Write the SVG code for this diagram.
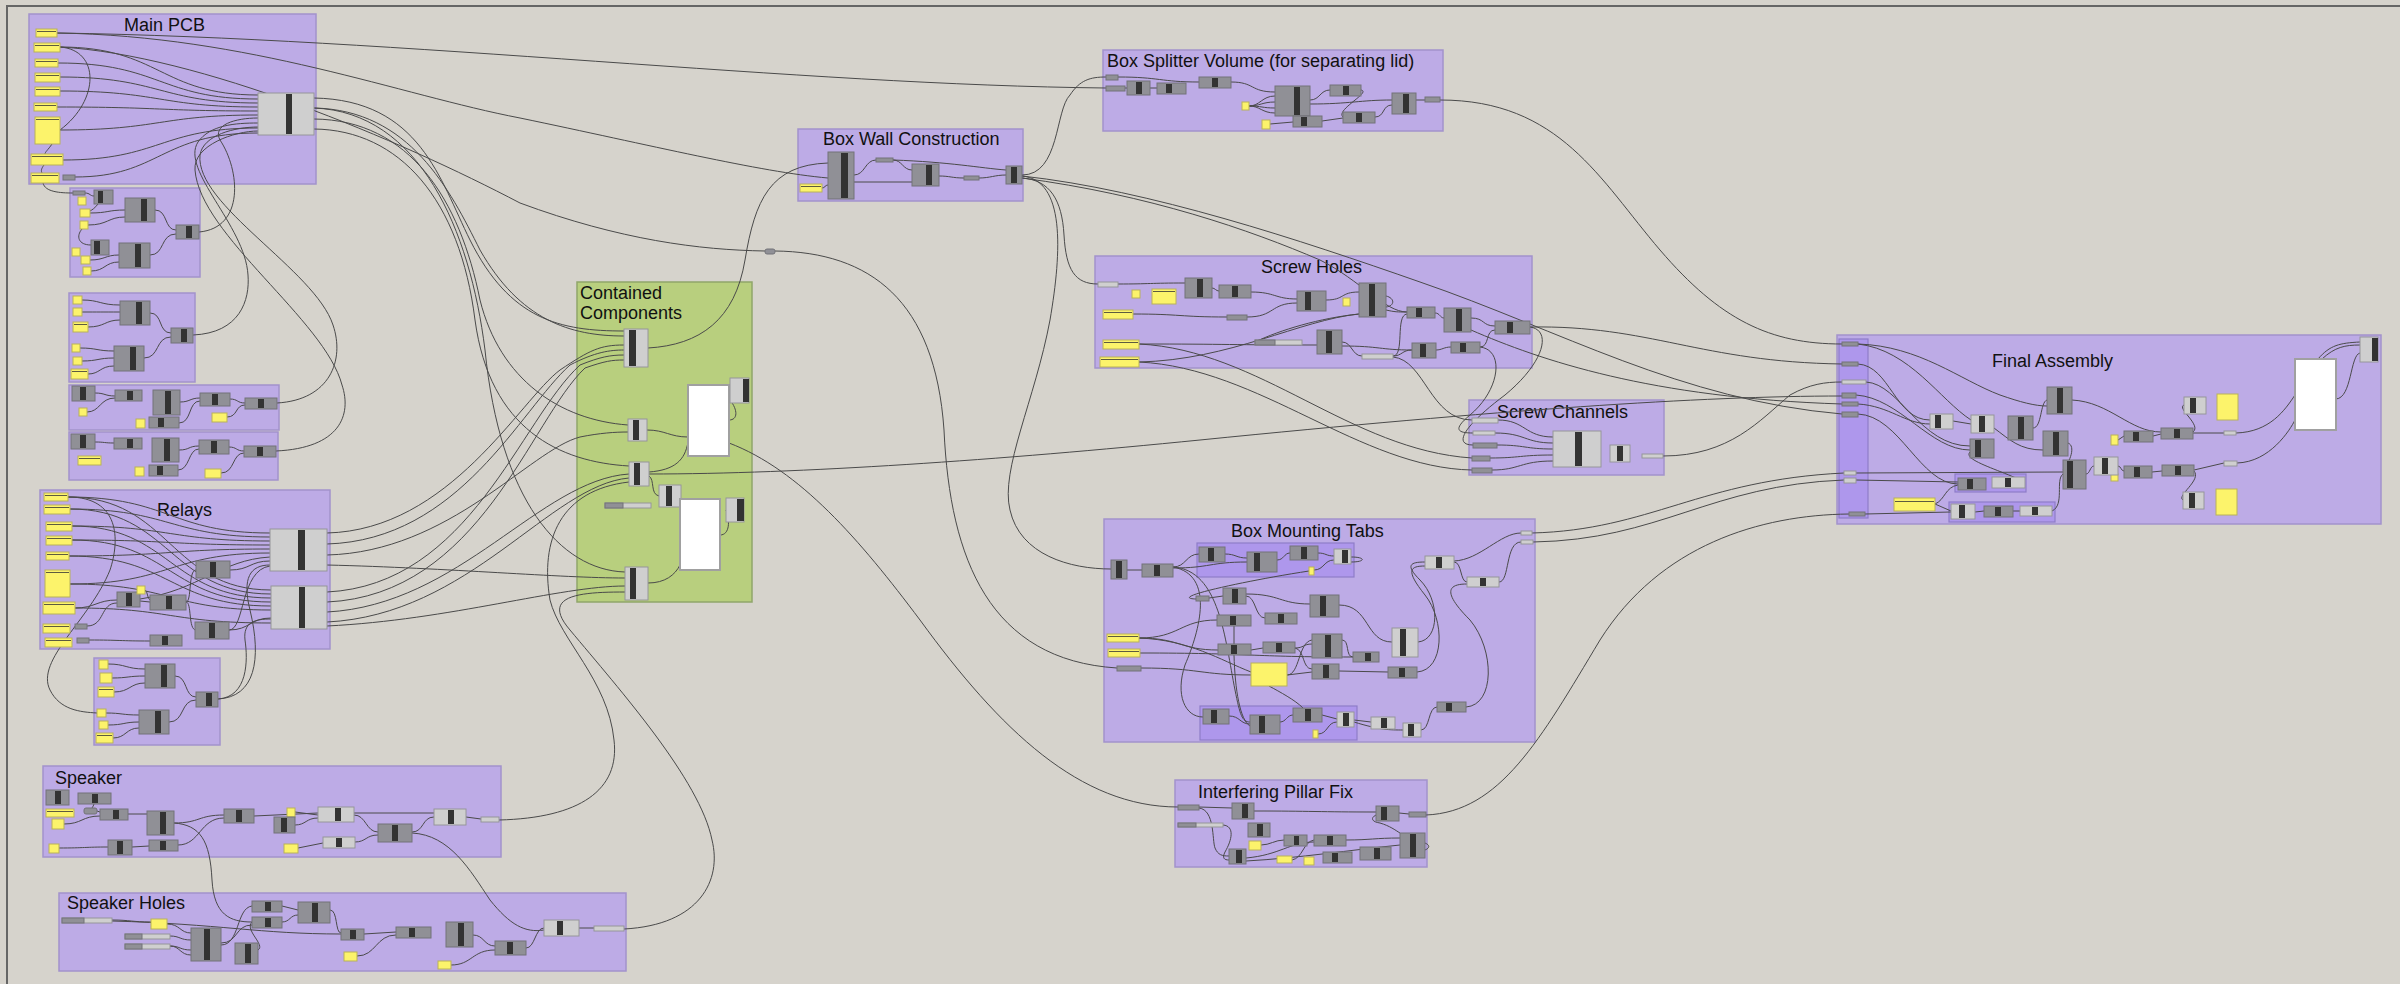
<svg xmlns="http://www.w3.org/2000/svg" width="2400" height="984" viewBox="0 0 2400 984">
<style>
.bg{fill:#d6d3cc}
.fr{fill:none;stroke:#666;stroke-width:2}
.g{fill:#bdabe6;stroke:#a393cb;stroke-width:1.5}
.gi{fill:#ae97ec;stroke:#8e7dc8;stroke-width:1.2}
.gg{fill:#b8cf7e;stroke:#90a66a;stroke-width:1.5}
.t{font-family:"Liberation Sans",Arial,sans-serif;font-size:18px;fill:#111}
.c path{fill:none;stroke:#4a4a4a;stroke-width:1}
.n{fill:#909096;stroke:#737378;stroke-width:1}
.l{fill:#cfcfcf;stroke:#96969a;stroke-width:1}
.b{fill:#333}
.y{fill:#fcf36b;stroke:#b9b25a;stroke-width:1}
.w{fill:#fff;stroke:#a0a0a0;stroke-width:2}
.pl{stroke:#333;stroke-width:0.8}
</style>
<rect class="bg" x="0" y="0" width="2400" height="984"/>
<path class="fr" d="M7,984 V6 H2400"/>

<g id="clusters">
<g id="grp-main-pcb"><rect class="g" x="29" y="14" width="287" height="170"/><text class="t" x="124" y="31">Main PCB</text></g>
<g id="grp-s1"><rect class="g" x="70" y="188" width="130" height="89"/></g>
<g id="grp-a"><rect class="g" x="69" y="293" width="126" height="89"/></g>
<g id="grp-b"><rect class="g" x="69" y="385" width="210" height="45"/></g>
<g id="grp-c"><rect class="g" x="69" y="432" width="209" height="48"/></g>
<g id="grp-relays"><rect class="g" x="40" y="490" width="290" height="159"/><text class="t" x="157" y="516">Relays</text></g>
<g id="grp-d"><rect class="g" x="94" y="658" width="126" height="87"/></g>
<g id="grp-speaker"><rect class="g" x="43" y="766" width="458" height="91"/><text class="t" x="55" y="784">Speaker</text></g>
<g id="grp-speaker-holes"><rect class="g" x="59" y="893" width="567" height="78"/><text class="t" x="67" y="909">Speaker Holes</text></g>
<g id="grp-contained"><rect class="gg" x="577" y="282" width="175" height="320"/><text class="t" x="580" y="299">Contained</text><text class="t" x="580" y="319">Components</text></g>
<g id="grp-box-wall"><rect class="g" x="798" y="129" width="225" height="72"/><text class="t" x="823" y="145">Box Wall Construction</text></g>
<g id="grp-box-splitter"><rect class="g" x="1103" y="50" width="340" height="81"/><text class="t" x="1107" y="67">Box Splitter Volume (for separating lid)</text></g>
<g id="grp-screw-holes"><rect class="g" x="1095" y="256" width="437" height="112"/><text class="t" x="1261" y="273">Screw Holes</text></g>
<g id="grp-screw-channels"><rect class="g" x="1469" y="400" width="195" height="75"/><text class="t" x="1497" y="418">Screw Channels</text></g>
<g id="grp-box-mounting-tabs"><rect class="g" x="1104" y="519" width="431" height="223"/><text class="t" x="1231" y="537">Box Mounting Tabs</text><rect class="gi" x="1197" y="543" width="157" height="34"/><rect class="gi" x="1200" y="706" width="157" height="34"/></g>
<g id="grp-pillar"><rect class="g" x="1175" y="780" width="252" height="87"/><text class="t" x="1198" y="798">Interfering Pillar Fix</text></g>
<g id="grp-final"><rect class="g" x="1837" y="335" width="544" height="189"/><text class="t" x="1992" y="367">Final Assembly</text><rect class="gi" x="1839" y="339" width="29" height="179"/><rect class="gi" x="1955" y="474" width="71" height="18"/><rect class="gi" x="1949" y="502" width="106" height="20"/></g>
</g>

<g id="connectors" class="c">
<!-- Main PCB internal -->
<path d="M60,47 C160,47 160,95 258,95"/>
<path d="M58,63 C160,63 160,99 258,99"/>
<path d="M60,77 C160,77 160,103 258,103"/>
<path d="M60,91 C160,91 160,107 258,107"/>
<path d="M57,107 C160,107 160,111 258,111"/>
<path d="M60,130 C160,130 160,115 258,115"/>
<path d="M63,160 C160,160 160,128 258,128"/>
<path d="M75,177 C160,177 160,133 258,133"/>
<path d="M60,47 C100,50 100,100 60,130"/>
<path d="M52,144 C48,150 45,152 45,154"/>
<path d="M44,165 C41,169 41,171 42,173"/>
<path d="M43,183 C45,192 60,193 73,193"/>
<!-- S1 -->
<path d="M85,193 C90,193 90,196 94,196"/>
<path d="M90,213 C108,213 108,210 125,210"/>
<path d="M88,225 C108,225 108,217 125,217"/>
<path d="M98,204 C95,208 92,210 90,211"/>
<path d="M155,210 C168,210 164,230 176,230"/>
<path d="M82,229 C76,236 78,245 91,245"/>
<path d="M90,260 C105,260 105,255 119,255"/>
<path d="M91,271 C105,271 105,262 119,262"/>
<path d="M150,255 C165,255 160,234 176,234"/>
<path d="M199,232 C245,228 240,170 220,140 C212,125 235,118 258,118"/>
<!-- A -->
<path d="M82,300 C100,300 100,305 120,305"/>
<path d="M82,312 C100,312 100,312 120,312"/>
<path d="M88,327 C105,327 105,320 120,320"/>
<path d="M80,348 C97,348 97,351 114,351"/>
<path d="M82,361 C98,361 98,358 114,358"/>
<path d="M88,374 C100,374 100,366 114,366"/>
<path d="M150,313 C163,313 158,333 171,333"/>
<path d="M144,358 C160,358 155,337 171,337"/>
<path d="M193,335 C240,333 250,300 248,275 C245,225 180,170 198,142 C210,125 235,123 258,123"/>
<!-- B -->
<path d="M95,393 C105,393 105,396 115,396"/>
<path d="M87,412 C100,412 100,398 115,398"/>
<path d="M180,402 C190,402 190,398 200,398"/>
<path d="M179,423 C192,423 188,401 200,401"/>
<path d="M230,399 C238,399 237,403 245,403"/>
<path d="M227,417 C238,417 235,405 245,405"/>
<path d="M277,403 C330,400 345,360 333,325 C315,270 195,205 200,155 C203,135 235,127 258,127"/>
<!-- C -->
<path d="M95,442 C105,442 104,443 114,443"/>
<path d="M179,450 C190,450 188,446 199,446"/>
<path d="M178,470 C190,470 188,449 199,449"/>
<path d="M229,447 C237,447 236,451 244,451"/>
<path d="M221,473 C235,473 232,453 244,453"/>
<path d="M276,451 C340,448 352,415 342,385 C325,320 200,235 195,170 C193,145 235,131 258,131"/>
<!-- Relays -->
<path d="M68,497 C170,497 170,533 270,533"/>
<path d="M68,497 C170,497 170,590 271,590"/>
<path d="M70,509 C170,509 170,537 270,537"/>
<path d="M70,509 C170,509 170,594 271,594"/>
<path d="M72,526 C170,526 170,541 270,541"/>
<path d="M72,526 C170,526 170,598 271,598"/>
<path d="M72,540 C170,540 170,545 270,545"/>
<path d="M72,540 C170,540 170,602 271,602"/>
<path d="M69,556 C170,556 170,549 270,549"/>
<path d="M69,556 C170,556 170,606 271,606"/>
<path d="M70,584 C170,584 170,553 270,553"/>
<path d="M70,584 C170,584 170,610 271,610"/>
<path d="M75,608 C95,608 97,600 117,600"/>
<path d="M75,608 C170,608 170,623 271,623"/>
<path d="M87,626 C105,626 100,603 117,603"/>
<path d="M140,599 C200,590 220,560 270,557"/>
<path d="M145,590 C148,592 147,598 150,600"/>
<path d="M140,601 L150,602"/>
<path d="M186,602 C192,602 188,570 196,570"/>
<path d="M186,602 C192,602 188,630 196,630"/>
<path d="M230,570 C250,570 250,561 270,561"/>
<path d="M229,630 C250,630 250,618 271,618"/>
<path d="M229,630 C245,630 240,570 270,566"/>
<path d="M89,640 C120,640 120,641 150,641"/>
<path d="M68,497 C120,497 120,540 110,570 C90,620 35,660 50,690 C60,710 80,712 97,713"/>
<!-- D -->
<path d="M108,664 C126,664 126,669 145,669"/>
<path d="M112,678 C128,678 128,676 145,676"/>
<path d="M114,692 C130,692 130,683 145,683"/>
<path d="M106,713 C122,713 122,715 139,715"/>
<path d="M108,725 C124,725 124,722 139,722"/>
<path d="M113,738 C126,738 126,728 139,728"/>
<path d="M175,676 C188,676 184,697 196,697"/>
<path d="M169,722 C185,722 180,700 196,700"/>
<path d="M218,699 C255,697 262,660 250,610 C242,578 250,565 270,565"/>
<path d="M218,699 C248,697 248,660 245,640 C243,622 255,619 271,619"/>
<!-- Speaker -->
<path d="M94,804 C92,810 88,812 84,811"/>
<path d="M97,811 L100,812"/>
<path d="M64,824 C82,824 82,816 100,816"/>
<path d="M128,814 L147,814"/>
<path d="M59,848 C85,848 85,847 108,847"/>
<path d="M132,847 L149,846"/>
<path d="M174,823 C200,823 198,815 224,815"/>
<path d="M178,845 C200,845 200,818 224,818"/>
<path d="M254,816 L318,813"/>
<path d="M295,812 L318,815"/>
<path d="M295,825 C306,825 306,818 318,818"/>
<path d="M354,815 C366,815 366,832 378,832"/>
<path d="M298,848 L323,843"/>
<path d="M355,842 C366,842 366,835 378,835"/>
<path d="M412,832 C424,832 422,817 434,817"/>
<path d="M354,813 L434,813"/>
<path d="M466,817 L481,819"/>
<path d="M174,823 C200,825 210,840 212,880 C214,915 230,922 252,922"/>
<path d="M412,833 C450,835 470,870 490,900 C510,925 525,933 544,930"/>
<!-- Speaker Holes -->
<path d="M112,920 C130,920 132,922 151,922"/>
<path d="M167,924 C180,924 180,933 191,933"/>
<path d="M170,936 C180,936 180,940 191,940"/>
<path d="M170,946 C180,946 180,950 191,950"/>
<path d="M170,946 C180,946 180,955 191,955"/>
<path d="M112,921 C220,924 260,934 341,934"/>
<path d="M221,943 C238,943 235,925 252,925"/>
<path d="M221,945 C240,945 236,908 252,906"/>
<path d="M258,950 C266,945 244,930 252,922"/>
<path d="M282,906 L298,910"/>
<path d="M282,922 C290,922 290,915 298,915"/>
<path d="M330,910 C338,910 335,933 341,933"/>
<path d="M364,934 L396,932"/>
<path d="M357,956 C376,956 376,935 396,935"/>
<path d="M473,935 C484,935 484,946 495,946"/>
<path d="M451,965 C472,965 472,950 495,950"/>
<path d="M526,948 C535,948 535,928 544,928"/>
<path d="M579,928 L594,928"/>
<!-- Contained internal -->
<path d="M647,430 C665,430 670,437 688,437"/>
<path d="M649,472 C675,470 685,460 688,442"/>
<path d="M649,476 C655,480 650,494 659,496"/>
<path d="M648,583 C665,583 675,575 680,565"/>
<path d="M729,420 C738,420 738,410 730,400"/>
<path d="M720,535 C730,535 730,520 726,510"/>
<!-- Box wall internal -->
<path d="M822,188 C825,188 825,185 828,185"/>
<path d="M854,175 C865,175 865,160 876,160"/>
<path d="M893,160 C902,160 903,170 912,170"/>
<path d="M854,182 L912,182"/>
<path d="M939,176 C950,176 952,178 964,178"/>
<path d="M979,178 C990,178 995,175 1006,175"/>
<path d="M893,160 C950,162 980,168 1006,170"/>
<!-- Box splitter internal -->
<path d="M1118,77 C1160,77 1160,82 1199,82"/>
<path d="M1125,88 L1127,88"/>
<path d="M1150,88 L1157,88"/>
<path d="M1231,82 C1255,82 1250,92 1275,92"/>
<path d="M1249,106 C1260,106 1262,96 1275,96"/>
<path d="M1249,106 C1260,106 1262,102 1275,102"/>
<path d="M1249,106 C1262,106 1262,108 1275,108"/>
<path d="M1249,106 C1260,106 1262,113 1275,113"/>
<path d="M1270,124 L1293,122"/>
<path d="M1310,100 C1320,100 1320,90 1330,90"/>
<path d="M1310,104 C1350,104 1360,100 1392,100"/>
<path d="M1322,121 L1343,118"/>
<path d="M1361,90 C1372,92 1335,110 1343,117"/>
<path d="M1375,117 C1385,117 1382,105 1392,105"/>
<path d="M1416,100 L1425,100"/>
<!-- Screw holes internal -->
<path d="M1118,284 C1150,284 1150,283 1185,283"/>
<path d="M1212,288 C1215,288 1216,291 1219,291"/>
<path d="M1251,292 C1275,292 1275,299 1297,299"/>
<path d="M1133,314 C1180,314 1180,317 1227,317"/>
<path d="M1247,317 C1275,317 1270,303 1297,303"/>
<path d="M1326,300 C1345,300 1340,292 1359,292"/>
<path d="M1386,296 C1395,298 1395,306 1386,307"/>
<path d="M1386,310 C1395,312 1397,312 1407,312"/>
<path d="M1435,313 C1440,313 1440,318 1444,318"/>
<path d="M1471,318 C1485,318 1482,326 1495,326"/>
<path d="M1359,314 C1320,318 1280,330 1255,342"/>
<path d="M1139,344 C1230,344 1230,345 1317,345"/>
<path d="M1139,362 C1230,360 1300,320 1359,314"/>
<path d="M1342,342 C1352,342 1352,356 1362,356"/>
<path d="M1342,346 C1380,346 1380,350 1412,350"/>
<path d="M1393,356 C1402,356 1402,350 1412,350"/>
<path d="M1436,350 C1442,350 1444,347 1451,347"/>
<path d="M1480,347 C1490,347 1485,330 1495,330"/>
<path d="M1393,356 C1405,356 1395,315 1407,314"/>
<!-- Screw holes to channels -->
<path d="M1139,344 C1260,350 1350,450 1472,458"/>
<path d="M1139,362 C1260,368 1360,468 1472,470"/>
<path d="M1393,357 C1425,360 1430,420 1472,420"/>
<path d="M1480,347 C1505,350 1500,390 1470,415 C1452,430 1458,433 1473,433"/>
<path d="M1530,327 C1552,330 1545,362 1505,395 C1465,425 1452,445 1473,445"/>
<!-- Screw channels internal -->
<path d="M1498,420 C1525,420 1525,437 1553,437"/>
<path d="M1495,433 C1525,433 1525,443 1553,443"/>
<path d="M1497,445 C1525,445 1525,449 1553,449"/>
<path d="M1490,458 C1520,458 1520,455 1553,455"/>
<path d="M1492,470 C1520,470 1520,461 1553,461"/>
<!-- Box mounting tabs internal -->
<path d="M1127,570 L1142,570"/>
<path d="M1173,567 C1186,567 1186,554 1199,554"/>
<path d="M1173,568 C1210,568 1210,562 1247,562"/>
<path d="M1225,554 C1236,554 1236,558 1247,558"/>
<path d="M1277,560 C1284,560 1284,553 1290,553"/>
<path d="M1318,553 C1326,553 1326,556 1334,556"/>
<path d="M1314,570 C1324,570 1324,560 1334,560"/>
<path d="M1351,557 C1366,557 1366,562 1351,562"/>
<path d="M1173,567 C1215,575 1200,630 1185,665 C1175,695 1185,717 1203,717"/>
<path d="M1173,567 C1220,570 1225,640 1235,690 C1240,715 1242,722 1250,722"/>
<path d="M1309,571 C1250,580 1165,598 1196,599"/>
<path d="M1209,598 L1223,596"/>
<path d="M1246,594 C1280,594 1280,604 1310,604"/>
<path d="M1246,596 C1256,596 1255,618 1265,618"/>
<path d="M1139,638 C1180,638 1180,620 1217,620"/>
<path d="M1139,638 C1180,638 1180,650 1218,650"/>
<path d="M1139,638 C1190,640 1220,660 1251,672"/>
<path d="M1140,653 C1250,653 1250,657 1353,657"/>
<path d="M1141,668 C1200,668 1200,675 1251,675"/>
<path d="M1234,626 L1234,644"/>
<path d="M1234,655 C1235,690 1240,720 1250,726"/>
<path d="M1251,650 L1263,648"/>
<path d="M1295,648 C1304,648 1303,644 1312,644"/>
<path d="M1295,648 C1305,650 1302,669 1312,669"/>
<path d="M1287,675 L1312,672"/>
<path d="M1287,675 C1300,675 1298,642 1312,640"/>
<path d="M1339,671 L1388,672"/>
<path d="M1342,640 C1350,640 1345,657 1353,657"/>
<path d="M1339,605 C1370,605 1365,642 1392,642"/>
<path d="M1269,686 C1280,692 1295,700 1303,708"/>
<path d="M1418,642 C1440,640 1440,600 1420,580 C1405,565 1410,562 1425,562"/>
<path d="M1417,672 C1445,670 1445,620 1425,595 C1405,570 1410,566 1425,566"/>
<path d="M1454,562 C1462,562 1460,582 1467,582"/>
<path d="M1454,561 C1480,560 1500,533 1521,533"/>
<path d="M1499,582 C1510,582 1505,542 1521,542"/>
<path d="M1466,707 C1495,705 1495,650 1470,620 C1440,590 1450,584 1467,584"/>
<path d="M1354,720 L1371,722"/>
<path d="M1354,722 C1380,730 1390,730 1403,730"/>
<path d="M1421,730 C1430,730 1428,707 1437,707"/>
<path d="M1229,716 C1240,716 1240,724 1250,724"/>
<path d="M1280,722 C1286,722 1287,715 1293,715"/>
<path d="M1322,715 L1337,719"/>
<path d="M1318,734 C1328,734 1327,722 1337,722"/>
<!-- Pillar internal -->
<path d="M1199,807 L1232,808"/>
<path d="M1199,808 C1215,810 1212,840 1215,848 C1218,855 1222,856 1229,856"/>
<path d="M1223,825 C1235,826 1232,840 1225,852 C1222,858 1224,860 1229,860"/>
<path d="M1254,811 C1310,811 1320,812 1376,812"/>
<path d="M1261,845 C1270,845 1275,840 1284,840"/>
<path d="M1246,858 C1280,855 1290,842 1314,842"/>
<path d="M1292,860 C1303,858 1303,842 1314,840"/>
<path d="M1346,840 C1370,840 1375,838 1400,838"/>
<path d="M1246,861 C1300,858 1350,850 1400,845"/>
<path d="M1376,815 C1370,818 1372,822 1380,823 C1390,826 1395,830 1400,833"/>
<path d="M1425,843 C1430,845 1430,848 1425,850"/>
<path d="M1399,813 L1409,814"/>
<!-- Final assembly internal -->
<path d="M1858,344 C1920,346 1960,380 2000,395 C2020,402 2035,406 2047,406"/>
<path d="M1858,344 C1910,350 1940,400 1971,420"/>
<path d="M1858,364 C1890,366 1895,420 1930,420"/>
<path d="M1866,382 C1900,384 1920,446 1970,446"/>
<path d="M1856,395 C1900,398 1930,450 1970,450"/>
<path d="M1858,404 C1890,406 1905,424 1930,424"/>
<path d="M1858,414 C1900,416 1920,484 1958,484"/>
<path d="M1953,421 L1971,424"/>
<path d="M1994,428 C2010,440 2020,450 2043,450"/>
<path d="M2033,428 C2042,428 2040,402 2047,400"/>
<path d="M2068,443 C2076,446 2070,462 2063,470"/>
<path d="M2072,400 C2110,402 2130,432 2161,432"/>
<path d="M2118,440 L2124,436"/>
<path d="M2153,436 L2161,434"/>
<path d="M2193,433 L2224,433"/>
<path d="M2193,432 C2202,425 2176,408 2184,405"/>
<path d="M2236,433 C2270,432 2285,410 2295,395"/>
<path d="M1970,452 C1962,460 2000,470 2025,482"/>
<path d="M1856,473 L2063,472"/>
<path d="M1856,480 L1958,482"/>
<path d="M2052,511 C2065,505 2055,480 2063,474"/>
<path d="M1935,504 L1951,511"/>
<path d="M1935,504 C1945,500 1945,487 1958,485"/>
<path d="M1865,514 L1951,512"/>
<path d="M1975,512 L1984,511"/>
<path d="M2013,511 L2020,511"/>
<path d="M2086,474 C2090,474 2090,466 2094,466"/>
<path d="M2118,466 C2121,466 2121,471 2124,471"/>
<path d="M2152,472 L2162,471"/>
<path d="M2194,470 L2224,463"/>
<path d="M2194,471 C2202,480 2176,496 2183,500"/>
<path d="M2237,463 C2270,462 2290,430 2295,420"/>
<path d="M2336,399 C2352,398 2350,355 2360,353"/>
<path d="M2318,359 C2330,345 2340,343 2360,342"/>
<path d="M2322,359 C2335,347 2345,345 2360,345"/>
<!-- Long connections -->
<path d="M57,33 C400,38 800,85 1106,88"/>
<path d="M57,33 C250,36 400,95 520,118 C650,145 760,172 828,178"/>
<path d="M60,47 C200,55 400,140 520,203 C620,240 700,250 765,251"/>
<path d="M775,251 C870,252 935,300 944,430 C950,560 990,660 1117,668"/>
<path d="M314,98 C420,100 440,180 470,240 C510,320 560,331 624,331"/>
<path d="M314,108 C410,110 450,190 480,250 C520,320 570,336 624,336"/>
<path d="M314,119 C410,120 460,200 480,300 C500,380 560,420 628,425"/>
<path d="M314,129 C400,130 460,200 475,320 C490,430 560,462 629,466"/>
<path d="M314,108 C420,112 470,230 485,350 C500,500 560,570 625,572"/>
<path d="M327,533 C450,530 520,400 560,370 C590,350 600,345 624,345"/>
<path d="M327,544 C460,540 520,410 570,365 C595,352 610,350 624,350"/>
<path d="M327,555 C450,552 530,450 580,437 C600,433 615,432 628,432"/>
<path d="M327,565 C450,568 560,578 625,578"/>
<path d="M327,592 C470,585 520,420 580,365 C600,357 610,355 624,355"/>
<path d="M327,602 C480,595 530,420 585,368 C605,361 612,360 624,360"/>
<path d="M327,612 C460,605 540,480 629,474"/>
<path d="M327,622 C470,615 550,485 629,478"/>
<path d="M327,626 C450,620 560,586 625,586"/>
<path d="M499,820 C580,818 620,790 614,740 C608,680 560,640 550,600 C540,540 560,490 629,482"/>
<path d="M624,929 C700,925 722,880 712,840 C700,780 620,690 570,630 C540,595 580,592 625,592"/>
<path d="M648,348 C700,345 735,320 745,260 C755,200 770,165 828,163"/>
<path d="M649,474 C800,474 1000,460 1200,440 C1500,410 1700,396 1842,396"/>
<path d="M729,443 C800,470 860,540 920,620 C1000,730 1080,807 1178,807"/>
<path d="M1022,175 C1060,175 1055,110 1070,95 C1080,80 1090,77 1106,77"/>
<path d="M1022,176 C1065,180 1062,250 1050,320 C1035,400 1000,470 1010,510 C1020,555 1070,569 1111,569"/>
<path d="M1022,178 C1050,180 1062,200 1064,235 C1066,270 1075,284 1098,284"/>
<path d="M1022,176 C1150,190 1300,240 1420,282 C1560,330 1680,400 1842,414"/>
<path d="M1022,178 C1150,195 1250,230 1320,260 C1360,280 1385,312 1407,312"/>
<path d="M1440,100 C1560,100 1600,180 1660,250 C1720,320 1770,344 1842,344"/>
<path d="M1530,327 C1650,325 1700,362 1842,364"/>
<path d="M1471,330 C1540,360 1650,398 1842,404"/>
<path d="M1663,456 C1730,456 1760,420 1790,395 C1810,384 1825,382 1842,382"/>
<path d="M1532,533 C1650,530 1700,480 1844,473"/>
<path d="M1533,542 C1660,540 1710,485 1844,480"/>
<path d="M1426,815 C1500,812 1540,740 1600,640 C1660,545 1760,515 1849,514"/>
</g>

<g id="nodes">
<!-- Main PCB -->
<g id="pcb-p1"><rect class="y" x="36" y="29" width="21" height="8"/><line class="pl" x1="37" y1="31.5" x2="56" y2="31.5"/></g>
<g id="pcb-p2"><rect class="y" x="34" y="43" width="26" height="9"/><line class="pl" x1="35" y1="45.5" x2="59" y2="45.5"/></g>
<g id="pcb-p3"><rect class="y" x="35" y="59" width="23" height="8"/><line class="pl" x1="36" y1="61.5" x2="57" y2="61.5"/></g>
<g id="pcb-p4"><rect class="y" x="35" y="73" width="25" height="9"/><line class="pl" x1="36" y1="75.5" x2="59" y2="75.5"/></g>
<g id="pcb-p5"><rect class="y" x="35" y="87" width="25" height="9"/><line class="pl" x1="36" y1="89.5" x2="59" y2="89.5"/></g>
<g id="pcb-p6"><rect class="y" x="34" y="103" width="23" height="8"/><line class="pl" x1="35" y1="105.5" x2="56" y2="105.5"/></g>
<g id="pcb-p7"><rect class="y" x="35" y="117" width="25" height="27"/><line class="pl" x1="36" y1="119.5" x2="59" y2="119.5"/></g>
<g id="pcb-p8"><rect class="y" x="31" y="154" width="32" height="11"/><line class="pl" x1="32" y1="156.5" x2="62" y2="156.5"/></g>
<g id="pcb-p9"><rect class="y" x="31" y="173" width="28" height="10"/><line class="pl" x1="32" y1="175.5" x2="58" y2="175.5"/></g>
<g id="pcb-s1"><rect class="n" x="63" y="175" width="12" height="5"/></g>
<g id="pcb-c1"><rect class="l" x="258" y="93" width="56" height="42"/><rect class="b" x="286" y="94" width="6" height="40"/></g>
<!-- S1 -->
<g id="s1-a"><rect class="n" x="73" y="191" width="12" height="4"/></g>
<g id="s1-b"><rect class="n" x="94" y="190" width="19" height="14"/><rect class="b" x="98" y="191" width="5" height="12"/></g>
<g id="s1-c"><rect class="n" x="125" y="198" width="30" height="24"/><rect class="b" x="141" y="199" width="6" height="22"/></g>
<g id="s1-y1"><rect class="y" x="78" y="197" width="8" height="8"/></g>
<g id="s1-y2"><rect class="y" x="80" y="209" width="10" height="8"/></g>
<g id="s1-y3"><rect class="y" x="80" y="221" width="8" height="8"/></g>
<g id="s1-d"><rect class="n" x="91" y="240" width="18" height="15"/><rect class="b" x="94" y="241" width="6" height="13"/></g>
<g id="s1-e"><rect class="n" x="119" y="243" width="31" height="25"/><rect class="b" x="135" y="244" width="6" height="23"/></g>
<g id="s1-y4"><rect class="y" x="72" y="248" width="8" height="8"/></g>
<g id="s1-y5"><rect class="y" x="81" y="256" width="9" height="8"/></g>
<g id="s1-y6"><rect class="y" x="83" y="267" width="8" height="8"/></g>
<g id="s1-f"><rect class="n" x="176" y="225" width="23" height="14"/><rect class="b" x="186" y="226" width="6" height="12"/></g>
<!-- A -->
<g id="a-y1"><rect class="y" x="73" y="296" width="9" height="8"/></g>
<g id="a-y2"><rect class="y" x="73" y="308" width="9" height="8"/></g>
<g id="a-p1"><rect class="y" x="73" y="322" width="15" height="10"/><line class="pl" x1="74" y1="324.5" x2="87" y2="324.5"/></g>
<g id="a-y3"><rect class="y" x="72" y="344" width="8" height="8"/></g>
<g id="a-y4"><rect class="y" x="73" y="357" width="9" height="8"/></g>
<g id="a-p2"><rect class="y" x="71" y="369" width="17" height="10"/><line class="pl" x1="72" y1="371.5" x2="87" y2="371.5"/></g>
<g id="a-c1"><rect class="n" x="120" y="301" width="30" height="24"/><rect class="b" x="136" y="302" width="6" height="22"/></g>
<g id="a-c2"><rect class="n" x="114" y="346" width="30" height="25"/><rect class="b" x="130" y="347" width="6" height="23"/></g>
<g id="a-c3"><rect class="n" x="171" y="328" width="22" height="15"/><rect class="b" x="181" y="329" width="6" height="13"/></g>
<!-- B -->
<g id="b-c1"><rect class="n" x="72" y="386" width="23" height="15"/><rect class="b" x="80" y="387" width="6" height="13"/></g>
<g id="b-c2"><rect class="n" x="115" y="390" width="27" height="11"/><rect class="b" x="127" y="391" width="6" height="9"/></g>
<g id="b-c3"><rect class="n" x="153" y="390" width="27" height="25"/><rect class="b" x="165" y="391" width="6" height="23"/></g>
<g id="b-c4"><rect class="n" x="200" y="393" width="30" height="13"/><rect class="b" x="212" y="394" width="6" height="11"/></g>
<g id="b-c5"><rect class="n" x="245" y="398" width="32" height="11"/><rect class="b" x="258" y="399" width="6" height="9"/></g>
<g id="b-c6"><rect class="n" x="149" y="417" width="30" height="11"/><rect class="b" x="158" y="418" width="6" height="9"/></g>
<g id="b-y1"><rect class="y" x="79" y="408" width="8" height="8"/></g>
<g id="b-y2"><rect class="y" x="136" y="419" width="9" height="9"/></g>
<g id="b-y3"><rect class="y" x="212" y="413" width="15" height="9"/></g>
<!-- C -->
<g id="c-c1"><rect class="n" x="71" y="434" width="24" height="15"/><rect class="b" x="80" y="435" width="6" height="13"/></g>
<g id="c-c2"><rect class="n" x="114" y="438" width="28" height="11"/><rect class="b" x="127" y="439" width="6" height="9"/></g>
<g id="c-c3"><rect class="n" x="152" y="438" width="27" height="24"/><rect class="b" x="164" y="439" width="6" height="22"/></g>
<g id="c-c4"><rect class="n" x="199" y="440" width="30" height="14"/><rect class="b" x="211" y="441" width="6" height="12"/></g>
<g id="c-c5"><rect class="n" x="244" y="446" width="32" height="11"/><rect class="b" x="257" y="447" width="6" height="9"/></g>
<g id="c-c6"><rect class="n" x="149" y="465" width="29" height="11"/><rect class="b" x="157" y="466" width="6" height="9"/></g>
<g id="c-p1"><rect class="y" x="78" y="456" width="23" height="9"/><line class="pl" x1="79" y1="458.5" x2="100" y2="458.5"/></g>
<g id="c-y1"><rect class="y" x="135" y="467" width="9" height="9"/></g>
<g id="c-y2"><rect class="y" x="205" y="469" width="16" height="9"/></g>
<!-- Relays -->
<g id="r-c1"><rect class="l" x="270" y="529" width="57" height="42"/><rect class="b" x="298" y="530" width="7" height="40"/></g>
<g id="r-c2"><rect class="l" x="271" y="586" width="56" height="43"/><rect class="b" x="299" y="587" width="6" height="41"/></g>
<g id="r-p1"><rect class="y" x="44" y="493" width="24" height="8"/><line class="pl" x1="45" y1="495.5" x2="67" y2="495.5"/></g>
<g id="r-p2"><rect class="y" x="44" y="505" width="26" height="9"/><line class="pl" x1="45" y1="507.5" x2="69" y2="507.5"/></g>
<g id="r-p3"><rect class="y" x="46" y="522" width="26" height="9"/><line class="pl" x1="47" y1="524.5" x2="71" y2="524.5"/></g>
<g id="r-p4"><rect class="y" x="46" y="536" width="26" height="9"/><line class="pl" x1="47" y1="538.5" x2="71" y2="538.5"/></g>
<g id="r-p5"><rect class="y" x="46" y="552" width="23" height="8"/><line class="pl" x1="47" y1="554.5" x2="68" y2="554.5"/></g>
<g id="r-p6"><rect class="y" x="45" y="570" width="25" height="27"/><line class="pl" x1="46" y1="572.5" x2="69" y2="572.5"/></g>
<g id="r-p7"><rect class="y" x="43" y="602" width="32" height="12"/><line class="pl" x1="44" y1="604.5" x2="74" y2="604.5"/></g>
<g id="r-p8"><rect class="y" x="43" y="624" width="27" height="9"/><line class="pl" x1="44" y1="626.5" x2="69" y2="626.5"/></g>
<g id="r-p9"><rect class="y" x="45" y="638" width="27" height="9"/><line class="pl" x1="46" y1="640.5" x2="71" y2="640.5"/></g>
<g id="r-s1"><rect class="n" x="75" y="624" width="12" height="5"/></g>
<g id="r-s2"><rect class="n" x="77" y="638" width="12" height="5"/></g>
<g id="r-n1"><rect class="n" x="117" y="592" width="23" height="15"/><rect class="b" x="126" y="593" width="6" height="13"/></g>
<g id="r-y1"><rect class="y" x="137" y="586" width="8" height="8"/></g>
<g id="r-n2"><rect class="n" x="150" y="595" width="36" height="15"/><rect class="b" x="166" y="596" width="6" height="13"/></g>
<g id="r-n3"><rect class="n" x="196" y="561" width="34" height="17"/><rect class="b" x="210" y="562" width="6" height="15"/></g>
<g id="r-n4"><rect class="n" x="195" y="622" width="34" height="17"/><rect class="b" x="209" y="623" width="6" height="15"/></g>
<g id="r-n5"><rect class="n" x="150" y="635" width="32" height="11"/><rect class="b" x="162" y="636" width="6" height="9"/></g>
<!-- D -->
<g id="d-c1"><rect class="n" x="145" y="664" width="30" height="24"/><rect class="b" x="161" y="665" width="6" height="22"/></g>
<g id="d-c2"><rect class="n" x="139" y="710" width="30" height="24"/><rect class="b" x="155" y="711" width="6" height="22"/></g>
<g id="d-c3"><rect class="n" x="196" y="692" width="22" height="15"/><rect class="b" x="206" y="693" width="6" height="13"/></g>
<g id="d-y1"><rect class="y" x="99" y="660" width="9" height="9"/></g>
<g id="d-y2"><rect class="y" x="100" y="673" width="12" height="10"/></g>
<g id="d-p1"><rect class="y" x="98" y="687" width="16" height="10"/><line class="pl" x1="99" y1="689.5" x2="113" y2="689.5"/></g>
<g id="d-y3"><rect class="y" x="97" y="709" width="9" height="8"/></g>
<g id="d-y4"><rect class="y" x="99" y="721" width="9" height="8"/></g>
<g id="d-p2"><rect class="y" x="96" y="733" width="17" height="10"/><line class="pl" x1="97" y1="735.5" x2="112" y2="735.5"/></g>
<!-- Speaker -->
<g id="sp-c1"><rect class="n" x="46" y="790" width="23" height="15"/><rect class="b" x="55" y="791" width="6" height="13"/></g>
<g id="sp-c2"><rect class="n" x="78" y="793" width="33" height="11"/><rect class="b" x="92" y="794" width="6" height="9"/></g>
<g id="sp-p1"><rect class="y" x="46" y="809" width="28" height="8"/><line class="pl" x1="47" y1="811.5" x2="73" y2="811.5"/></g>
<g id="sp-s1"><rect class="n" x="84" y="808" width="13" height="6" rx="2"/></g>
<g id="sp-c3"><rect class="n" x="100" y="809" width="28" height="11"/><rect class="b" x="113" y="810" width="6" height="9"/></g>
<g id="sp-y1"><rect class="y" x="52" y="819" width="12" height="10"/></g>
<g id="sp-c4"><rect class="n" x="147" y="811" width="27" height="24"/><rect class="b" x="160" y="812" width="6" height="22"/></g>
<g id="sp-y2"><rect class="y" x="49" y="844" width="10" height="9"/></g>
<g id="sp-c5"><rect class="n" x="108" y="840" width="24" height="15"/><rect class="b" x="117" y="841" width="6" height="13"/></g>
<g id="sp-c6"><rect class="n" x="149" y="840" width="29" height="11"/><rect class="b" x="160" y="841" width="6" height="9"/></g>
<g id="sp-c7"><rect class="n" x="224" y="809" width="30" height="14"/><rect class="b" x="236" y="810" width="6" height="12"/></g>
<g id="sp-y3"><rect class="y" x="287" y="808" width="8" height="9"/></g>
<g id="sp-c8"><rect class="n" x="274" y="817" width="21" height="16"/><rect class="b" x="281" y="818" width="6" height="14"/></g>
<g id="sp-c9"><rect class="l" x="318" y="807" width="36" height="15"/><rect class="b" x="335" y="808" width="6" height="13"/></g>
<g id="sp-c10"><rect class="n" x="378" y="824" width="34" height="18"/><rect class="b" x="392" y="825" width="6" height="16"/></g>
<g id="sp-c11"><rect class="l" x="323" y="837" width="32" height="11"/><rect class="b" x="336" y="838" width="6" height="9"/></g>
<g id="sp-y4"><rect class="y" x="284" y="844" width="14" height="9"/></g>
<g id="sp-c12"><rect class="l" x="434" y="809" width="32" height="16"/><rect class="b" x="448" y="810" width="6" height="14"/></g>
<g id="sp-s2"><rect class="l" x="481" y="817" width="18" height="5"/></g>
<!-- Speaker Holes -->
<g id="sh-sl1"><rect class="l" x="62" y="918" width="50" height="5"/><rect class="n" x="62" y="918" width="22" height="5"/></g>
<g id="sh-y1"><rect class="y" x="151" y="919" width="16" height="10"/></g>
<g id="sh-sl2"><rect class="l" x="125" y="934" width="45" height="5"/><rect class="n" x="125" y="934" width="17" height="5"/></g>
<g id="sh-sl3"><rect class="l" x="125" y="944" width="45" height="5"/><rect class="n" x="125" y="944" width="17" height="5"/></g>
<g id="sh-c1"><rect class="n" x="191" y="928" width="30" height="33"/><rect class="b" x="204" y="929" width="6" height="31"/></g>
<g id="sh-c2"><rect class="n" x="235" y="943" width="23" height="21"/><rect class="b" x="245" y="944" width="6" height="19"/></g>
<g id="sh-c3"><rect class="n" x="252" y="901" width="30" height="11"/><rect class="b" x="265" y="902" width="6" height="9"/></g>
<g id="sh-c4"><rect class="n" x="252" y="917" width="30" height="11"/><rect class="b" x="265" y="918" width="6" height="9"/></g>
<g id="sh-c5"><rect class="n" x="298" y="902" width="32" height="21"/><rect class="b" x="312" y="903" width="6" height="19"/></g>
<g id="sh-c6"><rect class="n" x="341" y="929" width="23" height="11"/><rect class="b" x="350" y="930" width="6" height="9"/></g>
<g id="sh-c7"><rect class="n" x="396" y="927" width="35" height="11"/><rect class="b" x="409" y="928" width="6" height="9"/></g>
<g id="sh-y2"><rect class="y" x="344" y="952" width="13" height="9"/></g>
<g id="sh-c8"><rect class="n" x="446" y="922" width="27" height="25"/><rect class="b" x="458" y="923" width="6" height="23"/></g>
<g id="sh-c9"><rect class="n" x="495" y="941" width="31" height="14"/><rect class="b" x="507" y="942" width="6" height="12"/></g>
<g id="sh-y3"><rect class="y" x="438" y="961" width="13" height="8"/></g>
<g id="sh-c10"><rect class="l" x="544" y="920" width="35" height="16"/><rect class="b" x="557" y="921" width="6" height="14"/></g>
<g id="sh-s1"><rect class="l" x="594" y="926" width="30" height="5"/></g>
<!-- Contained -->
<g id="cc-c1"><rect class="l" x="624" y="329" width="24" height="38"/><rect class="b" x="629" y="330" width="7" height="36"/></g>
<g id="cc-w1"><rect class="w" x="688" y="385" width="41" height="71"/></g>
<g id="cc-c2"><rect class="l" x="730" y="378" width="19" height="25"/><rect class="b" x="743" y="379" width="6" height="23"/></g>
<g id="cc-c3"><rect class="l" x="628" y="419" width="19" height="22"/><rect class="b" x="633" y="420" width="6" height="20"/></g>
<g id="cc-c4"><rect class="l" x="629" y="462" width="20" height="24"/><rect class="b" x="634" y="463" width="6" height="22"/></g>
<g id="cc-c5"><rect class="l" x="659" y="485" width="22" height="22"/><rect class="b" x="666" y="486" width="6" height="20"/></g>
<g id="cc-sl"><rect class="l" x="605" y="503" width="46" height="5"/><rect class="n" x="605" y="503" width="18" height="5"/></g>
<g id="cc-w2"><rect class="w" x="680" y="499" width="40" height="71"/></g>
<g id="cc-c6"><rect class="l" x="726" y="498" width="18" height="24"/><rect class="b" x="737" y="499" width="7" height="22"/></g>
<g id="cc-c7"><rect class="l" x="625" y="567" width="23" height="33"/><rect class="b" x="630" y="568" width="6" height="31"/></g>
<g id="relay-dot"><rect class="n" x="765" y="249" width="10" height="5" rx="2"/></g>
<!-- Box Wall -->
<g id="bw-p1"><rect class="y" x="800" y="184" width="22" height="8"/><line class="pl" x1="801" y1="186.5" x2="821" y2="186.5"/></g>
<g id="bw-c1"><rect class="n" x="828" y="152" width="26" height="47"/><rect class="b" x="841" y="153" width="7" height="45"/></g>
<g id="bw-s1"><rect class="n" x="876" y="158" width="17" height="4"/></g>
<g id="bw-c2"><rect class="n" x="912" y="164" width="27" height="22"/><rect class="b" x="926" y="165" width="6" height="20"/></g>
<g id="bw-s2"><rect class="n" x="964" y="176" width="15" height="4"/></g>
<g id="bw-c3"><rect class="n" x="1006" y="166" width="16" height="18"/><rect class="b" x="1011" y="167" width="6" height="16"/></g>
<!-- Box Splitter -->
<g id="bs-s1"><rect class="n" x="1106" y="75" width="12" height="5"/></g>
<g id="bs-s2"><rect class="n" x="1106" y="86" width="19" height="5"/></g>
<g id="bs-c1"><rect class="n" x="1127" y="81" width="23" height="14"/><rect class="b" x="1136" y="82" width="6" height="12"/></g>
<g id="bs-c2"><rect class="n" x="1157" y="83" width="29" height="11"/><rect class="b" x="1166" y="84" width="6" height="9"/></g>
<g id="bs-c3"><rect class="n" x="1199" y="77" width="32" height="11"/><rect class="b" x="1212" y="78" width="6" height="9"/></g>
<g id="bs-c4"><rect class="n" x="1275" y="86" width="35" height="30"/><rect class="b" x="1294" y="87" width="6" height="28"/></g>
<g id="bs-y1"><rect class="y" x="1242" y="102" width="7" height="8"/></g>
<g id="bs-y2"><rect class="y" x="1262" y="120" width="8" height="9"/></g>
<g id="bs-c5"><rect class="n" x="1293" y="116" width="29" height="11"/><rect class="b" x="1301" y="117" width="6" height="9"/></g>
<g id="bs-c6"><rect class="n" x="1330" y="85" width="31" height="11"/><rect class="b" x="1343" y="86" width="6" height="9"/></g>
<g id="bs-c7"><rect class="n" x="1343" y="112" width="32" height="11"/><rect class="b" x="1356" y="113" width="6" height="9"/></g>
<g id="bs-c8"><rect class="n" x="1392" y="93" width="24" height="21"/><rect class="b" x="1403" y="94" width="6" height="19"/></g>
<g id="bs-s3"><rect class="n" x="1425" y="97" width="15" height="5"/></g>
<!-- Screw Holes -->
<g id="sc-s1"><rect class="l" x="1098" y="282" width="20" height="5"/></g>
<g id="sc-c1"><rect class="n" x="1185" y="278" width="27" height="20"/><rect class="b" x="1197" y="279" width="6" height="18"/></g>
<g id="sc-c2"><rect class="n" x="1219" y="285" width="32" height="13"/><rect class="b" x="1232" y="286" width="6" height="11"/></g>
<g id="sc-y1"><rect class="y" x="1132" y="290" width="8" height="8"/></g>
<g id="sc-p1"><rect class="y" x="1152" y="289" width="24" height="15"/><line class="pl" x1="1153" y1="291.5" x2="1175" y2="291.5"/></g>
<g id="sc-c3"><rect class="n" x="1297" y="291" width="29" height="20"/><rect class="b" x="1305" y="292" width="6" height="18"/></g>
<g id="sc-y2"><rect class="y" x="1343" y="298" width="7" height="8"/></g>
<g id="sc-c4"><rect class="n" x="1359" y="283" width="27" height="34"/><rect class="b" x="1369" y="284" width="6" height="32"/></g>
<g id="sc-p2"><rect class="y" x="1103" y="310" width="30" height="9"/><line class="pl" x1="1104" y1="312.5" x2="1132" y2="312.5"/></g>
<g id="sc-s2"><rect class="n" x="1227" y="315" width="20" height="5"/></g>
<g id="sc-c5"><rect class="n" x="1407" y="307" width="28" height="11"/><rect class="b" x="1416" y="308" width="6" height="9"/></g>
<g id="sc-c6"><rect class="n" x="1444" y="308" width="27" height="24"/><rect class="b" x="1456" y="309" width="6" height="22"/></g>
<g id="sc-c7"><rect class="n" x="1495" y="321" width="35" height="13"/><rect class="b" x="1507" y="322" width="6" height="11"/></g>
<g id="sc-p3"><rect class="y" x="1103" y="340" width="36" height="9"/><line class="pl" x1="1104" y1="342.5" x2="1138" y2="342.5"/></g>
<g id="sc-p4"><rect class="y" x="1100" y="357" width="39" height="10"/><line class="pl" x1="1101" y1="359.5" x2="1138" y2="359.5"/></g>
<g id="sc-sl"><rect class="l" x="1255" y="340" width="47" height="5"/><rect class="n" x="1255" y="340" width="20" height="5"/></g>
<g id="sc-c8"><rect class="n" x="1317" y="330" width="25" height="24"/><rect class="b" x="1326" y="331" width="6" height="22"/></g>
<g id="sc-s3"><rect class="l" x="1362" y="354" width="31" height="5"/></g>
<g id="sc-c9"><rect class="n" x="1412" y="343" width="24" height="15"/><rect class="b" x="1420" y="344" width="6" height="13"/></g>
<g id="sc-c10"><rect class="n" x="1451" y="342" width="29" height="11"/><rect class="b" x="1460" y="343" width="6" height="9"/></g>
<!-- Screw Channels -->
<g id="ch-s1"><rect class="l" x="1472" y="418" width="26" height="5"/></g>
<g id="ch-s2"><rect class="l" x="1473" y="431" width="22" height="4"/></g>
<g id="ch-s3"><rect class="n" x="1473" y="443" width="24" height="5"/></g>
<g id="ch-s4"><rect class="n" x="1472" y="456" width="18" height="5"/></g>
<g id="ch-s5"><rect class="n" x="1472" y="468" width="20" height="5"/></g>
<g id="ch-c1"><rect class="l" x="1553" y="431" width="48" height="36"/><rect class="b" x="1575" y="432" width="7" height="34"/></g>
<g id="ch-c2"><rect class="l" x="1610" y="445" width="20" height="17"/><rect class="b" x="1617" y="446" width="6" height="15"/></g>
<g id="ch-s6"><rect class="l" x="1642" y="454" width="21" height="4"/></g>
<!-- Box Mounting Tabs -->
<g id="bmt-c1"><rect class="n" x="1111" y="560" width="16" height="19"/><rect class="b" x="1116" y="561" width="6" height="17"/></g>
<g id="bmt-c2"><rect class="n" x="1142" y="564" width="31" height="13"/><rect class="b" x="1154" y="565" width="6" height="11"/></g>
<g id="bmt-c3"><rect class="n" x="1199" y="547" width="26" height="15"/><rect class="b" x="1208" y="548" width="6" height="13"/></g>
<g id="bmt-c4"><rect class="n" x="1247" y="552" width="30" height="20"/><rect class="b" x="1254" y="553" width="6" height="18"/></g>
<g id="bmt-c5"><rect class="n" x="1290" y="546" width="28" height="14"/><rect class="b" x="1301" y="547" width="6" height="12"/></g>
<g id="bmt-c6"><rect class="l" x="1334" y="549" width="17" height="15"/><rect class="b" x="1342" y="550" width="6" height="13"/></g>
<g id="bmt-y1"><rect class="y" x="1309" y="567" width="5" height="8"/></g>
<g id="bmt-s1"><rect class="n" x="1196" y="596" width="13" height="5"/></g>
<g id="bmt-c7"><rect class="n" x="1223" y="588" width="23" height="16"/><rect class="b" x="1232" y="589" width="6" height="14"/></g>
<g id="bmt-c8"><rect class="n" x="1310" y="595" width="29" height="22"/><rect class="b" x="1320" y="596" width="6" height="20"/></g>
<g id="bmt-c9"><rect class="n" x="1265" y="613" width="32" height="11"/><rect class="b" x="1278" y="614" width="6" height="9"/></g>
<g id="bmt-c10"><rect class="n" x="1217" y="615" width="34" height="11"/><rect class="b" x="1230" y="616" width="6" height="9"/></g>
<g id="bmt-p1"><rect class="y" x="1107" y="634" width="32" height="8"/><line class="pl" x1="1108" y1="636.5" x2="1138" y2="636.5"/></g>
<g id="bmt-p2"><rect class="y" x="1108" y="649" width="32" height="8"/><line class="pl" x1="1109" y1="651.5" x2="1139" y2="651.5"/></g>
<g id="bmt-c11"><rect class="n" x="1218" y="644" width="33" height="11"/><rect class="b" x="1231" y="645" width="6" height="9"/></g>
<g id="bmt-c12"><rect class="n" x="1263" y="642" width="32" height="11"/><rect class="b" x="1276" y="643" width="6" height="9"/></g>
<g id="bmt-c13"><rect class="n" x="1312" y="634" width="30" height="24"/><rect class="b" x="1325" y="635" width="6" height="22"/></g>
<g id="bmt-c14"><rect class="n" x="1353" y="652" width="26" height="10"/><rect class="b" x="1365" y="653" width="6" height="8"/></g>
<g id="bmt-s2"><rect class="n" x="1117" y="666" width="24" height="5"/></g>
<g id="bmt-y2"><rect class="y" x="1251" y="663" width="36" height="23"/></g>
<g id="bmt-c15"><rect class="n" x="1312" y="664" width="27" height="15"/><rect class="b" x="1323" y="665" width="6" height="13"/></g>
<g id="bmt-c16"><rect class="n" x="1388" y="667" width="29" height="11"/><rect class="b" x="1399" y="668" width="6" height="9"/></g>
<g id="bmt-c17"><rect class="l" x="1392" y="628" width="26" height="29"/><rect class="b" x="1400" y="629" width="6" height="27"/></g>
<g id="bmt-c18"><rect class="l" x="1425" y="556" width="29" height="13"/><rect class="b" x="1436" y="557" width="6" height="11"/></g>
<g id="bmt-c19"><rect class="l" x="1467" y="577" width="32" height="10"/><rect class="b" x="1480" y="578" width="6" height="8"/></g>
<g id="bmt-s3"><rect class="l" x="1521" y="531" width="11" height="4"/></g>
<g id="bmt-s4"><rect class="l" x="1521" y="540" width="12" height="4"/></g>
<g id="bmt-c20"><rect class="n" x="1203" y="709" width="26" height="15"/><rect class="b" x="1211" y="710" width="6" height="13"/></g>
<g id="bmt-c21"><rect class="n" x="1250" y="715" width="30" height="19"/><rect class="b" x="1259" y="716" width="6" height="17"/></g>
<g id="bmt-c22"><rect class="n" x="1293" y="708" width="29" height="14"/><rect class="b" x="1305" y="709" width="6" height="12"/></g>
<g id="bmt-c23"><rect class="l" x="1337" y="712" width="17" height="15"/><rect class="b" x="1343" y="713" width="6" height="13"/></g>
<g id="bmt-y3"><rect class="y" x="1313" y="730" width="5" height="8"/></g>
<g id="bmt-c24"><rect class="l" x="1371" y="717" width="24" height="12"/><rect class="b" x="1381" y="718" width="6" height="10"/></g>
<g id="bmt-c25"><rect class="l" x="1403" y="723" width="18" height="14"/><rect class="b" x="1408" y="724" width="6" height="12"/></g>
<g id="bmt-c26"><rect class="n" x="1437" y="702" width="29" height="10"/><rect class="b" x="1446" y="703" width="6" height="8"/></g>
<!-- Interfering Pillar Fix -->
<g id="ip-s1"><rect class="n" x="1178" y="805" width="21" height="5"/></g>
<g id="ip-sl"><rect class="l" x="1178" y="823" width="45" height="4"/><rect class="n" x="1178" y="823" width="18" height="4"/></g>
<g id="ip-c1"><rect class="n" x="1232" y="803" width="22" height="16"/><rect class="b" x="1242" y="804" width="6" height="14"/></g>
<g id="ip-c2"><rect class="n" x="1248" y="823" width="22" height="14"/><rect class="b" x="1257" y="824" width="6" height="12"/></g>
<g id="ip-y1"><rect class="y" x="1249" y="841" width="12" height="9"/></g>
<g id="ip-c3"><rect class="n" x="1284" y="835" width="23" height="11"/><rect class="b" x="1294" y="836" width="5" height="9"/></g>
<g id="ip-c4"><rect class="n" x="1314" y="835" width="32" height="11"/><rect class="b" x="1327" y="836" width="6" height="9"/></g>
<g id="ip-c5"><rect class="n" x="1229" y="849" width="17" height="15"/><rect class="b" x="1236" y="850" width="6" height="13"/></g>
<g id="ip-y2"><rect class="y" x="1277" y="856" width="15" height="7"/></g>
<g id="ip-y3"><rect class="y" x="1304" y="857" width="10" height="8"/></g>
<g id="ip-c6"><rect class="n" x="1323" y="852" width="29" height="11"/><rect class="b" x="1332" y="853" width="6" height="9"/></g>
<g id="ip-c7"><rect class="n" x="1360" y="847" width="31" height="13"/><rect class="b" x="1374" y="848" width="6" height="11"/></g>
<g id="ip-c8"><rect class="n" x="1376" y="806" width="23" height="15"/><rect class="b" x="1381" y="807" width="6" height="13"/></g>
<g id="ip-s2"><rect class="n" x="1409" y="812" width="17" height="5"/></g>
<g id="ip-c9"><rect class="n" x="1400" y="833" width="25" height="25"/><rect class="b" x="1410" y="834" width="6" height="23"/></g>
<!-- Final Assembly -->
<g id="fa-s1"><rect class="n" x="1842" y="342" width="16" height="4"/></g>
<g id="fa-s2"><rect class="n" x="1842" y="362" width="16" height="4"/></g>
<g id="fa-s3"><rect class="l" x="1842" y="380" width="24" height="4"/></g>
<g id="fa-s4"><rect class="n" x="1842" y="393" width="14" height="5"/></g>
<g id="fa-s5"><rect class="n" x="1842" y="402" width="16" height="4"/></g>
<g id="fa-s6"><rect class="n" x="1842" y="412" width="16" height="5"/></g>
<g id="fa-s7"><rect class="l" x="1844" y="471" width="12" height="4"/></g>
<g id="fa-s8"><rect class="l" x="1844" y="478" width="12" height="5"/></g>
<g id="fa-s9"><rect class="n" x="1849" y="512" width="16" height="4"/></g>
<g id="fa-c1"><rect class="l" x="1930" y="414" width="23" height="15"/><rect class="b" x="1935" y="415" width="6" height="13"/></g>
<g id="fa-c2"><rect class="l" x="1971" y="415" width="23" height="18"/><rect class="b" x="1979" y="416" width="6" height="16"/></g>
<g id="fa-c3"><rect class="n" x="1970" y="439" width="24" height="19"/><rect class="b" x="1975" y="440" width="6" height="17"/></g>
<g id="fa-c4"><rect class="n" x="2008" y="416" width="25" height="24"/><rect class="b" x="2018" y="417" width="6" height="22"/></g>
<g id="fa-c5"><rect class="n" x="2047" y="387" width="25" height="27"/><rect class="b" x="2057" y="388" width="6" height="25"/></g>
<g id="fa-c6"><rect class="n" x="2043" y="431" width="25" height="25"/><rect class="b" x="2053" y="432" width="6" height="23"/></g>
<g id="fa-c7"><rect class="n" x="2063" y="460" width="23" height="29"/><rect class="b" x="2067" y="461" width="6" height="27"/></g>
<g id="fa-y2"><rect class="y" x="2111" y="474" width="7" height="7"/></g>
<g id="fa-c8"><rect class="l" x="2094" y="457" width="24" height="18"/><rect class="b" x="2102" y="458" width="6" height="16"/></g>
<g id="fa-y1"><rect class="y" x="2111" y="435" width="7" height="10"/></g>
<g id="fa-c9"><rect class="n" x="2124" y="431" width="29" height="11"/><rect class="b" x="2133" y="432" width="6" height="9"/></g>
<g id="fa-c10"><rect class="n" x="2161" y="428" width="32" height="11"/><rect class="b" x="2174" y="429" width="6" height="9"/></g>
<g id="fa-c11"><rect class="l" x="2184" y="397" width="22" height="17"/><rect class="b" x="2190" y="398" width="6" height="15"/></g>
<g id="fa-y3"><rect class="y" x="2217" y="394" width="21" height="26"/></g>
<g id="fa-s10"><rect class="l" x="2224" y="431" width="12" height="4"/></g>
<g id="fa-c12"><rect class="n" x="2124" y="466" width="28" height="12"/><rect class="b" x="2134" y="467" width="6" height="10"/></g>
<g id="fa-c13"><rect class="n" x="2162" y="465" width="32" height="11"/><rect class="b" x="2175" y="466" width="6" height="9"/></g>
<g id="fa-s11"><rect class="l" x="2224" y="461" width="13" height="5"/></g>
<g id="fa-c14"><rect class="l" x="2183" y="492" width="21" height="17"/><rect class="b" x="2189" y="493" width="6" height="15"/></g>
<g id="fa-y4"><rect class="y" x="2216" y="489" width="21" height="26"/></g>
<g id="fa-w"><rect class="w" x="2295" y="359" width="41" height="71"/></g>
<g id="fa-c15"><rect class="l" x="2360" y="337" width="18" height="25"/><rect class="b" x="2372" y="338" width="6" height="23"/></g>
<g id="fa-c16"><rect class="n" x="1958" y="478" width="28" height="12"/><rect class="b" x="1967" y="479" width="6" height="10"/></g>
<g id="fa-c17"><rect class="l" x="1992" y="477" width="33" height="11"/><rect class="b" x="2005" y="478" width="6" height="9"/></g>
<g id="fa-c18"><rect class="l" x="1951" y="504" width="24" height="15"/><rect class="b" x="1959" y="505" width="6" height="13"/></g>
<g id="fa-c19"><rect class="n" x="1984" y="506" width="29" height="11"/><rect class="b" x="1995" y="507" width="6" height="9"/></g>
<g id="fa-c20"><rect class="l" x="2020" y="506" width="32" height="10"/><rect class="b" x="2032" y="507" width="6" height="8"/></g>
<g id="fa-p1"><rect class="y" x="1894" y="498" width="41" height="13"/><line class="pl" x1="1895" y1="501.5" x2="1934" y2="501.5"/></g>
</g>
</svg>
